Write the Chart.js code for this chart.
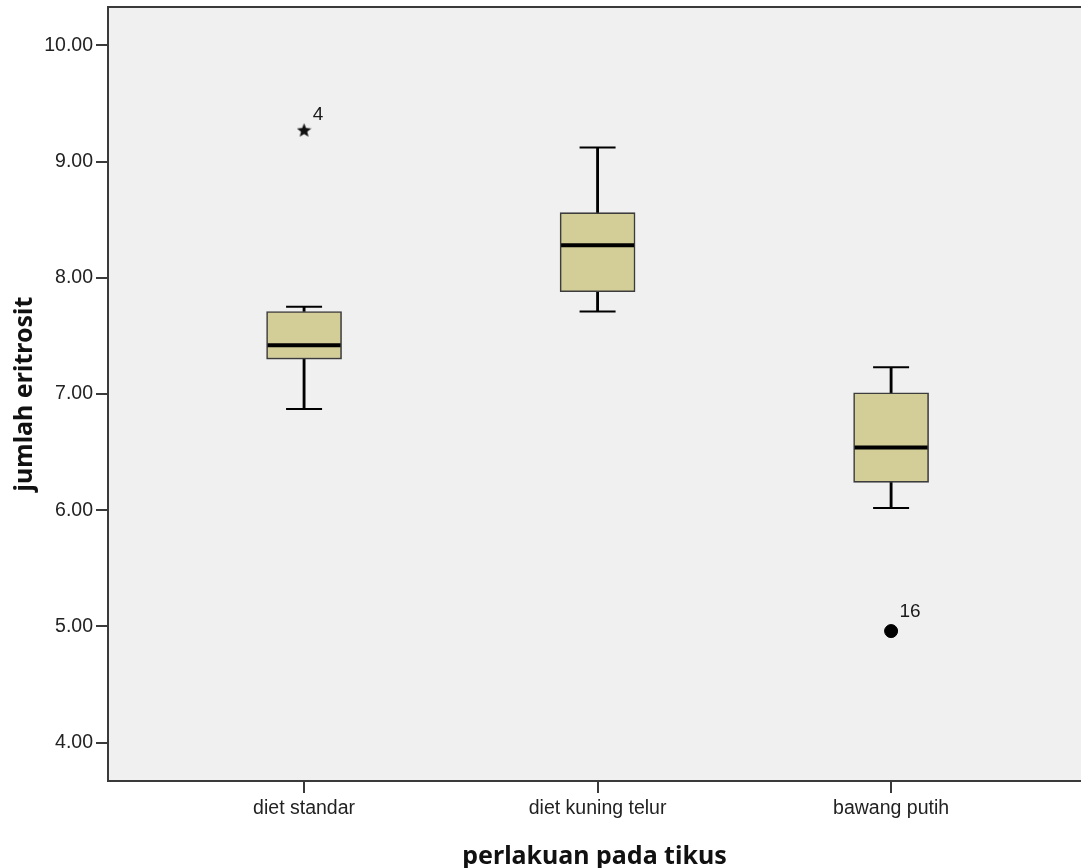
<!DOCTYPE html>
<html><head><meta charset="utf-8">
<script src="https://cdn.jsdelivr.net/npm/chart.js@4.4.0/dist/chart.umd.min.js"></script>
<style>html,body{margin:0;padding:0;background:#fff;}#wrap{width:1081px;height:868px;position:relative;}</style>
</head><body><div id="wrap"><canvas id="c"></canvas></div>
<script>
// ---- data ----
const categories = ['diet standar', 'diet kuning telur', 'bawang putih'];
const whiskerLow  = [6.87, 7.71, 6.02];
const q1          = [7.30, 7.88, 6.24];
const median      = [7.42, 8.28, 6.54];
const q3          = [7.71, 8.56, 7.01];
const whiskerHigh = [7.75, 9.12, 7.23];
// outliers (circle) and extreme values (star)
const outlierCat   = [2];
const outlierValue = [4.96];
const outlierLabel = ['16'];
const extremeCat   = [0];
const extremeValue = [9.27];
const extremeLabel = ['4'];
const yTicks = [4, 5, 6, 7, 8, 9, 10];
const yMin = 3.67, yMax = 10.33;
const xMin = -0.668, xMax = 2.647;
const xTitle = 'perlakuan pada tikus';
const yTitle = 'jumlah eritrosit';

// star marker image
function starImage(size) {
  const c = document.createElement('canvas');
  c.width = size; c.height = size;
  const g = c.getContext('2d');
  const cx = size / 2, cy = size / 2 + 0.5, R = size / 2, r = R * 0.44;
  g.beginPath();
  for (let i = 0; i < 10; i++) {
    const a = -Math.PI / 2 + i * Math.PI / 5;
    const rad = i % 2 === 0 ? R : r;
    g.lineTo(cx + rad * Math.cos(a), cy + rad * Math.sin(a));
  }
  g.closePath();
  g.fillStyle = '#111';
  g.fill();
  return c;
}
const starImg = starImage(15);

const FONT_TICK = {family: '"Liberation Sans", Arial, sans-serif', size: 19.5};
const FONT_TITLE = {family: '"Noto Sans", sans-serif', size: 25, weight: 'bold'};

const framePlugin = {
  id: 'frame',
  beforeDraw(chart) {
    const {ctx, chartArea: a} = chart;
    ctx.save();
    ctx.fillStyle = '#ffffff';
    ctx.fillRect(0, 0, chart.width, chart.height);
    ctx.fillStyle = '#f0f0f0';
    ctx.fillRect(a.left, a.top, a.right - a.left, a.bottom - a.top);
    ctx.restore();
  },
  afterDraw(chart) {
    const {ctx, chartArea: a, scales: {x, y}} = chart;
    ctx.save();
    ctx.strokeStyle = '#3a3a3a';
    ctx.lineWidth = 2;
    ctx.beginPath();
    ctx.moveTo(a.left - 1, a.top);
    ctx.lineTo(a.right + 1, a.top);
    ctx.stroke();
    ctx.fillStyle = '#1a1a1a';
    ctx.font = '19px "Liberation Sans", Arial, sans-serif';
    ctx.textAlign = 'center';
    ctx.textBaseline = 'middle';
    extremeCat.forEach((c, i) => {
      ctx.fillText(extremeLabel[i], x.getPixelForValue(c) + 14, y.getPixelForValue(extremeValue[i]) - 15);
    });
    outlierCat.forEach((c, i) => {
      ctx.fillText(outlierLabel[i], x.getPixelForValue(c) + 19, y.getPixelForValue(outlierValue[i]) - 19);
    });
    ctx.restore();
  }
};

const idx = categories.map((_, i) => i);

new Chart(document.getElementById('c'), {
  type: 'bar',
  data: {
    datasets: [
      {
        type: 'bar', grouped: false, order: 5,
        data: idx.map(i => ({x: i, y: [whiskerLow[i], q1[i]]})),
        backgroundColor: '#000', borderWidth: 0, barThickness: 2.2
      },
      {
        type: 'bar', grouped: false, order: 5,
        data: idx.map(i => ({x: i, y: [q3[i], whiskerHigh[i]]})),
        backgroundColor: '#000', borderWidth: 0, barThickness: 2.2
      },
      {
        type: 'bar', grouped: false, order: 4,
        data: idx.map(i => ({x: i, y: [q1[i], q3[i]]})),
        backgroundColor: '#d3ce97', borderColor: '#3c3c3c', borderWidth: 1.6,
        borderSkipped: false, barThickness: 75
      },
      {
        type: 'scatter', order: 3,
        data: idx.map(i => ({x: i, y: median[i]})),
        pointStyle: 'line', radius: 36.5, borderWidth: 4, borderColor: '#000'
      },
      {
        type: 'scatter', order: 3,
        data: idx.map(i => ({x: i, y: whiskerLow[i]})).concat(idx.map(i => ({x: i, y: whiskerHigh[i]}))),
        pointStyle: 'line', radius: 18, borderWidth: 2, borderColor: '#000'
      },
      {
        type: 'scatter', order: 2,
        data: outlierCat.map((c, i) => ({x: c, y: outlierValue[i]})),
        pointStyle: 'circle', radius: 6.5, borderWidth: 1, borderColor: '#000', backgroundColor: '#000'
      },
      {
        type: 'scatter', order: 2,
        data: extremeCat.map((c, i) => ({x: c, y: extremeValue[i]})),
        pointStyle: starImg, radius: 7
      }
    ]
  },
  options: {
    responsive: true,
    maintainAspectRatio: false,
    animation: false,
    events: [],
    layout: {autoPadding: false, padding: {top: 7, left: 0, right: 0, bottom: 0}},
    plugins: {legend: {display: false}, tooltip: {enabled: false}},
    scales: {
      x: {
        type: 'linear', min: xMin, max: xMax, offset: false,
        afterBuildTicks: s => { s.ticks = idx.map(v => ({value: v})); },
        afterFit: s => { s.height = 87; s.paddingLeft = 0; s.paddingRight = 0; },
        grid: {display: true, drawOnChartArea: false, drawTicks: true, tickLength: 12, color: '#3a3a3a', lineWidth: 2, offset: false},
        border: {display: true, color: '#3a3a3a', width: 2},
        ticks: {callback: v => categories[v], font: FONT_TICK, color: '#222', padding: 4, maxRotation: 0, autoSkip: false},
        title: {display: true, text: xTitle, font: FONT_TITLE, color: '#111', padding: {top: 0, bottom: -4}}
      },
      y: {
        type: 'linear', min: yMin, max: yMax, beginAtZero: false,
        afterBuildTicks: s => { s.ticks = yTicks.map(v => ({value: v})); },
        afterFit: s => { s.width = 108; s.paddingTop = 0; s.paddingBottom = 0; },
        grid: {display: true, drawOnChartArea: false, drawTicks: true, tickLength: 12, color: '#3a3a3a', lineWidth: 2},
        border: {display: true, color: '#3a3a3a', width: 2},
        ticks: {callback: v => Number(v).toFixed(2), font: FONT_TICK, color: '#222', padding: 3},
        title: {display: true, text: yTitle, font: FONT_TITLE, color: '#111', padding: {top: 10, bottom: 0}}
      }
    }
  },
  plugins: [framePlugin]
});
</script>
</body></html>
